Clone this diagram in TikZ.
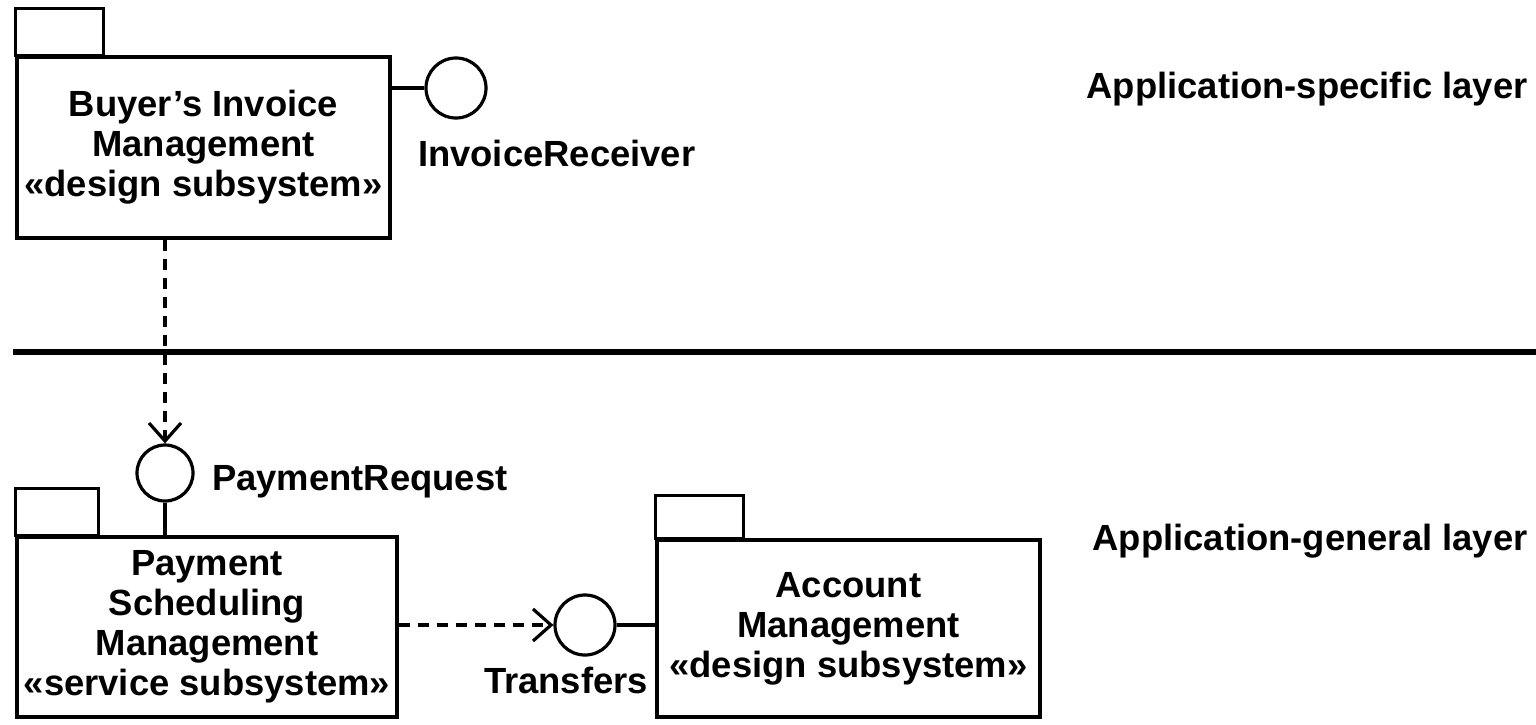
\documentclass[tikz,border=0pt]{standalone}
\usepackage{fontspec}
\setmainfont{Liberation Sans}
\usetikzlibrary{arrows.meta}

\begin{document}
\begin{tikzpicture}[x=0.5pt,y=-0.5pt,
    every node/.style={font=\fontsize{18.2}{20}\selectfont\bfseries},
    pkg/.style={draw,line width=1.6pt,align=center,inner sep=0pt},
    iface/.style={draw,circle,line width=1.6pt,inner sep=0pt},
    depend/.style={dashed,dash pattern=on 5.5pt off 4pt,line width=1.6pt,-{Straight Barb[length=9pt,width=16pt,line width=1.6pt]}}]
    \useasboundingbox (0,0) rectangle (1536,724);

    % Application-specific layer
    \node[pkg,minimum width=186.5pt,minimum height=90.5pt] (buyer) at (203.5,147.5)
        {Buyer's Invoice\\Management\\«design subsystem»};
    \draw[line width=1.6pt] (buyer.north west) rectangle ++(88,-47);

    \node[iface,minimum size=30pt] (recv) at (456,88) {};
    \draw[line width=1.6pt] (recv.west -| buyer.east) -- (recv.west);
    \node[anchor=west] (recvlbl) at (411,153) {InvoiceReceiver};

    \node (speclbl) at (1307,89) {Application-specific layer};

    % Layer boundary
    \draw[line width=3pt] (13,352) -- (1536,352);

    % Application-general layer
    \node[iface,minimum size=28pt] (payreq) at (165,473) {};
    \node[anchor=west] (payreqlbl) at (205,482) {PaymentRequest};
    \draw[depend] (payreq.north |- buyer.south) -- (payreq.north);

    \node[pkg,minimum width=190pt,minimum height=90pt] (sched) at (207,627)
        {Payment\\Scheduling\\Management\\«service subsystem»};
    \draw[line width=1.6pt] (sched.north west) rectangle ++(83,-47);
    \draw[line width=1.6pt] (payreq.south) -- (payreq.south |- sched.north);

    \node[iface,minimum size=30pt] (xfer) at (585,625) {};
    \node (xferlbl) at (566,680) {Transfers};
    \draw[depend] (xfer.west -| sched.east) -- (xfer.west);

    \node[pkg,minimum width=191.5pt,minimum height=88.5pt] (acct) at (848.5,628.5)
        {Account\\Management\\«design subsystem»};
    \draw[line width=1.6pt] (acct.north west) rectangle ++(88,-43);
    \draw[line width=1.6pt] (xfer.east) -- (xfer.east -| acct.west);

    \node (genlbl) at (1310,541) {Application-general layer};
\end{tikzpicture}
\end{document}
